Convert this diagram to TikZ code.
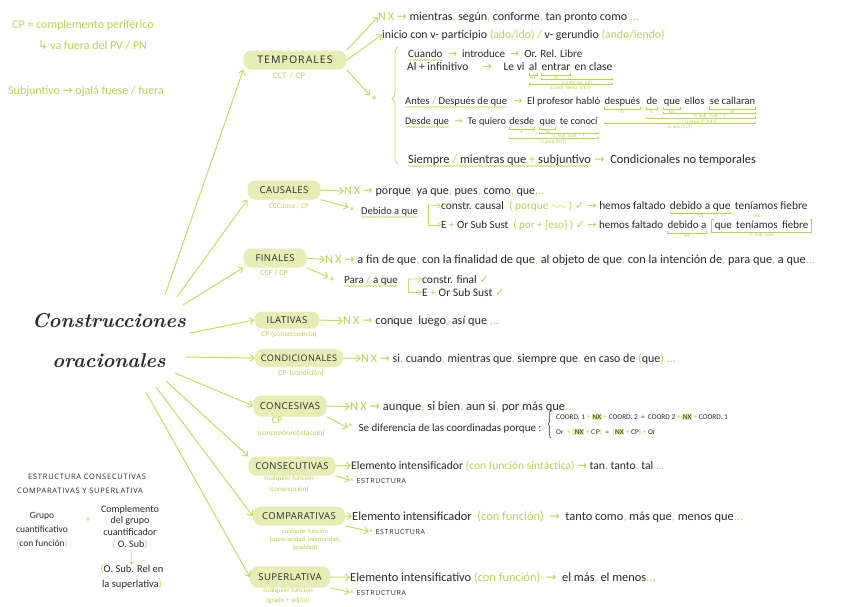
\documentclass[tikz,border=0pt]{standalone}
\usepackage{fontspec}
\usetikzlibrary{arrows.meta,positioning,decorations.pathmorphing,decorations.pathreplacing}
\newfontfamily\hand{Carlito}
\newfontfamily\capf{Open Sans}[LetterSpace=10]
\newfontfamily\brf{Open Sans}[LetterSpace=5]
\newfontfamily\symf{DejaVu Sans}
\definecolor{ink}{HTML}{2A2A2A}
\definecolor{lime}{HTML}{C9DC62}
\definecolor{limefill}{HTML}{E6EDB5}
\definecolor{limetext}{HTML}{BDD253}
\definecolor{hilite}{HTML}{E4EE8E}
\newcommand{\grn}[1]{\textcolor{limetext}{#1}}
\newcommand{\garr}{\grn{{\symf →}}}
\newcommand{\chk}{\grn{{\symf ✓}}}
\newcommand{\nx}{\grn{N\,X}}
\newcommand{\hlt}[1]{{\setlength{\fboxsep}{0.6pt}\colorbox{hilite}{#1}}}
% bracket under words: from, to, depth, label
\newcommand{\ubr}[4]{\draw[brk] ([yshift=-#3]#1.base west) |- ([yshift=-#3-2pt]#2.base east) node[lbl,pos=0.75,below]{#4} -- ([yshift=-#3]#2.base east);}
% wavy underline
\newcommand{\wav}[1]{\draw[wavy] ([yshift=-3pt]#1.base west) -- ([yshift=-3pt]#1.base east);}

\begin{document}
\begin{tikzpicture}[x=1pt,y=-1pt,
  branch/.style={rounded corners=8pt,fill=limefill,text=ink,font=\brf\fontsize{9.5}{10}\selectfont,inner xsep=4pt,minimum height=19pt},
  sub/.style={text=limetext,font=\hand\fontsize{7.5}{10}\selectfont,inner sep=0pt,align=center},
  txt/.style={anchor=base west,inner sep=0pt,text=ink,font=\hand\fontsize{12}{12}\selectfont},
  sz/.style={font=\hand\fontsize{#1}{#1}\selectfont},
  tiny/.style={txt,font=\hand\fontsize{7}{8}\selectfont},
  caps/.style={txt,font=\capf\fontsize{7}{8}\selectfont},
  note/.style={txt,text=limetext,font=\hand\fontsize{12}{12}\selectfont},
  star/.style={text=limetext,font=\hand\fontsize{15}{15}\selectfont,inner sep=0pt},
  blk/.style={text=ink,font=\hand\fontsize{9.5}{14}\selectfont,align=center,inner sep=0pt},
  lbl/.style={text=limetext,font=\hand\fontsize{5}{5}\selectfont,inner sep=0.8pt},
  arr/.style={draw=lime,line width=1pt,-{Straight Barb[length=4pt,width=7pt]}},
  arrthin/.style={draw=lime,line width=0.7pt,-{Straight Barb[length=3pt,width=5pt]}},
  brk/.style={draw=limetext,line width=0.4pt},
  wavy/.style={draw=lime,line width=0.5pt,decorate,decoration={snake,amplitude=0.7pt,segment length=3pt}},
  bracel/.style={draw=lime,line width=0.8pt,decorate}]
  \fill[white] (0,0) rectangle (848,606);
  \useasboundingbox (0,0) rectangle (848,606);

  % side notes
  \node[note] (cpnote) at (12,28) {CP = complemento periférico};
  \node[note] (pvnote) at (38,49) {{\symf ↳}\,va fuera del PV / PN};
  \node[note] (subjnote) at (8,94) {Subjuntivo {\symf →} ojalá fuese / fuera};

  % title
  \node[text=ink,align=center,inner sep=0pt,font=\rmfamily\bfseries\itshape\fontsize{20}{40}\selectfont] (title) at (109,341) {Construcciones\\oracionales};

  % branches
  \node[branch,minimum width=103pt,font=\capf\fontsize{10.5}{10}\selectfont] (temp) at (295,60) {TEMPORALES};
  \node[branch,minimum width=73pt] (caus) at (284,190) {CAUSALES};
  \node[branch,minimum width=63pt] (fin) at (275,258) {FINALES};
  \node[branch,minimum width=65pt,minimum height=17pt] (ilat) at (287,320) {ILATIVAS};
  \node[branch,minimum width=88pt,minimum height=18pt,font=\brf\fontsize{9}{10}\selectfont] (cond) at (299,358) {CONDICIONALES};
  \node[branch,minimum width=73pt,minimum height=21pt] (conc) at (290,406) {CONCESIVAS};
  \node[branch,minimum width=87pt] (consec) at (292,466) {CONSECUTIVAS};
  \node[branch,minimum width=92pt] (compar) at (299,516) {COMPARATIVAS};
  \node[branch,minimum width=80pt,minimum height=21pt] (superl) at (290,577) {SUPERLATIVA};

  \node[sub,font=\hand\fontsize{8.5}{8}\selectfont] (tempsub) at (289,76) {CCT \,/\, CP};
  \node[sub] (caussub) at (289,206) {CCCausa / CP};
  \node[sub,font=\hand\fontsize{8}{8}\selectfont] (finsub) at (274,273) {CCF / CP};
  \node[sub] (ilatsub) at (289,334) {CP (consecuencia)};
  \node[sub] (condsub) at (301,373) {CP \ (condición)};
  \node[sub,font=\hand\fontsize{10}{9}\selectfont] (concsub) at (277,420) {CP};
  \node[sub] (concsub2) at (291,433) {(concesión/obstáculo)};
  \node[sub,font=\hand\fontsize{7}{10.5}\selectfont] (consecsub) at (289,484) {cualquier función\\(consecución)};
  \node[sub,font=\hand\fontsize{6.5}{8}\selectfont] (comparsub) at (305,540) {cualquier función\\(superioridad, inferioridad,\\igualdad)};
  \node[sub,font=\hand\fontsize{7}{10}\selectfont] (superlsub) at (288,596) {cualquier función\\(grado + adj(o))};

  % from the title
  \coordinate (o1) at (165,295);
  \coordinate (o2) at (177,297);
  \coordinate (o3) at (183,305);
  \coordinate (o4) at (190,333);
  \coordinate (o5) at (185,357);
  \coordinate (o6) at (175,373);
  \coordinate (o7) at (166,381);
  \coordinate (o8) at (156,387);
  \coordinate (o9) at (146,392);
  \draw[arr] (o1) -- (temp.south west);
  \draw[arr] (o2) -- (caus.south west);
  \draw[arr] (o3) -- (fin.south west);
  \draw[arr] (o4) -- (ilat.west);
  \draw[arr] (o5) -- (cond.west);
  \draw[arr] (o6) -- (conc.west);
  \draw[arr] (o7) -- (consec.north west);
  \draw[arr] (o8) -- (compar.west);
  \draw[arr] (o9) -- (superl.west);

  % temporales
  \node[txt] (tnx) at (378,20) {\nx\ \garr\ mientras\grn{,} según\grn{,} conforme\grn{,} tan pronto como \grn{...}};
  \node[txt,sz=11.8] (tpart) at (382,38) {inicio con v- participio \grn{(ado/ido)} \grn{/} v- gerundio \grn{(ando/iendo)}};
  \node[star] (tstar) at (374,101) {*};
  \draw[arr] (temp.north east) -- (tnx.west);
  \draw[arr] (temp.east) -- (tpart.west);
  \draw[arr] (temp.south east) -- (tstar.north west);
  \coordinate (tb1) at (398,164);
  \coordinate (tb2) at (398,47);
  \draw[bracel,decoration={brace,amplitude=6pt,aspect=0.56}] (tb1) -- (tb2);

  \node[txt,sz=11] (tcu) at (408,57) {Cuando};
  \node[txt,sz=11] (tcu2) at ([xshift=5pt]tcu.base east) {\garr\ \ introduce \ \garr\ \ Or. Rel. Libre};
  \wav{tcu}
  \node[txt,sz=11.5] (tal) at (407,70) {Al + infinitivo \quad\garr\quad Le vi};
  \node[txt,sz=11.5] (tw1) at ([xshift=4pt]tal.base east) {al};
  \node[txt,sz=11.5] (tw2) at ([xshift=4pt]tw1.base east) {entrar};
  \node[txt,sz=11.5] (tw3) at ([xshift=4pt]tw2.base east) {en clase};
  \ubr{tw1}{tw1}{3pt}{NX}
  \ubr{tw2}{tw2}{3pt}{N}
  \ubr{tw2}{tw3}{7.5pt}{G.V-PV (Or. Inf)}
  \ubr{tw1}{tw3}{12.5pt}{Constr. temp. (CCT)}

  \node[txt,sz=10.6] (tan1) at (405,104) {Antes \grn{/} Después de que};
  \wav{tan1}
  \node[txt,sz=10.6] (tan2) at ([xshift=6pt]tan1.base east) {\garr\ \ El profesor habló};
  \node[txt,sz=10.6] (td1) at ([xshift=4pt]tan2.base east) {después};
  \node[txt,sz=10.6] (td2) at ([xshift=6pt]td1.base east) {de};
  \node[txt,sz=10.6] (td3) at ([xshift=6pt]td2.base east) {que};
  \node[txt,sz=10.6] (td4) at ([xshift=4pt]td3.base east) {ellos};
  \node[txt,sz=10.6] (td5) at ([xshift=5pt]td4.base east) {se callaran};
  \ubr{td1}{td1}{3pt}{N}
  \ubr{td2}{td2}{3pt}{E}
  \ubr{td3}{td3}{3pt}{Nx}
  \ubr{td5}{td5}{3pt}{N}
  \ubr{td3}{td5}{7.5pt}{O. Sub. Sust -- T}
  \ubr{td2}{td5}{12.5pt}{G.prep (C. Adv)}
  \ubr{td1}{td5}{17.5pt}{G. adv (CCT)}

  \node[txt,sz=10.2] (tde1) at (405,124) {Desde que};
  \wav{tde1}
  \node[txt,sz=10.2] (tde2) at ([xshift=5pt]tde1.base east) {\garr\ \ Te quiero};
  \node[txt,sz=10.2] (tq1) at ([xshift=3pt]tde2.base east) {desde};
  \node[txt,sz=10.2] (tq2) at ([xshift=5pt]tq1.base east) {que};
  \node[txt,sz=10.2] (tq3) at ([xshift=4pt]tq2.base east) {te conocí};
  \ubr{tq1}{tq1}{3pt}{E}
  \ubr{tq2}{tq2}{3pt}{Nx}
  \ubr{tq2}{tq3}{7.5pt}{G. Sub. Sust -- T}
  \ubr{tq1}{tq3}{12.5pt}{G.prep (CCT)}

  \node[txt,sz=12.4] (tsi) at (408,163) {Siempre \grn{/} mientras que \grn{+} subjuntivo};
  \wav{tsi}
  \node[txt,sz=12.4] (tsi2) at ([xshift=3pt]tsi.base east) {\garr\ \ Condicionales no temporales};

  % causales
  \node[txt] (cnx) at (344,194) {\nx\ \garr\ porque\grn{,} ya que\grn{,} pues\grn{,} como\grn{,} que\grn{...}};
  \node[star,font=\hand\fontsize{13}{13}\selectfont] (cst) at (352,212) {*};
  \node[txt,sz=10.5] (cdeb) at (361,214) {Debido a que};
  \wav{cdeb}
  \draw[arr] (caus.east) -- (cnx.west);
  \draw[arr] (caus.south east) -- (cst.north west);
  \coordinate (cfk) at (428,205);
  \node[txt,sz=11.4] (cc1) at (441,209) {constr. causal \ \grn{( porque $\sim\!\sim$ )} \chk\ \garr\ hemos faltado};
  \node[txt,sz=11.4] (cw1) at ([xshift=4pt]cc1.base east) {debido a que};
  \node[txt,sz=11.4] (cw2) at ([xshift=4pt]cw1.base east) {teníamos fiebre};
  \ubr{cw1}{cw1}{2.5pt}{NX}
  \node[txt,sz=11] (cc2) at (441,228) {E \grn{+} Or Sub Sust \ \grn{( por + [eso] )} \chk\ \garr\ hemos faltado};
  \node[txt,sz=11] (cv1) at ([xshift=4pt]cc2.base east) {debido a};
  \node[txt,sz=11] (cv2) at ([xshift=8pt]cv1.base east) {que};
  \node[txt,sz=11] (cv3) at ([xshift=4pt]cv2.base east) {teníamos};
  \node[txt,sz=11] (cv4) at ([xshift=4pt]cv3.base east) {fiebre};
  \ubr{cv1}{cv1}{3pt}{NX}
  \draw[brk] ([xshift=-1pt,yshift=9pt]cv2.base west) -- ([xshift=-3pt,yshift=9pt]cv2.base west) -- ([xshift=-3pt,yshift=-4pt]cv2.base west) -- ([xshift=3pt,yshift=-4pt]cv4.base east) node[lbl,midway,below]{O. Sub. Sust} -- ([xshift=3pt,yshift=9pt]cv4.base east) -- ([xshift=1pt,yshift=9pt]cv4.base east);
  \node[lbl] (ceso) at ([yshift=12pt]cv3.base) {eso};
  \draw[arrthin] (cfk) -- (cc1.west);
  \draw[arrthin] (cfk) |- (cc2.west);

  % finales
  \node[txt,sz=12.3] (fnx) at (325,263) {\nx\ \garr\ a fin de que\grn{,} con la finalidad de que\grn{,} al objeto de que\grn{,} con la intención de\grn{,} para que\grn{,} a que\grn{...}};
  \node[star,font=\hand\fontsize{13}{13}\selectfont] (fst) at (332,282) {*};
  \node[txt,sz=11] (fpara) at (344,283) {Para \grn{/} a que};
  \wav{fpara}
  \draw[arr] (fin.east) -- (fnx.west);
  \draw[arr] (fin.south east) -- (fst.north west);
  \coordinate (ffk) at (408,279);
  \node[txt,sz=11.5] (fc1) at (422,283) {constr. final \chk};
  \node[txt,sz=11.5] (fc2) at (422,296) {E \grn{+} Or Sub Sust \chk};
  \draw[arrthin] (ffk) -- (fc1.west);
  \draw[arrthin] (ffk) |- (fc2.west);

  % ilativas, condicionales
  \node[txt,sz=12.3] (inx) at (343,324) {\nx\ \garr\ conque\grn{,} luego\grn{,} así que \grn{...}};
  \draw[arr] (ilat.east) -- (inx.west);
  \node[txt] (dnx) at (361,362) {\nx\ \garr\ si\grn{,} cuando\grn{,} mientras que\grn{,} siempre que\grn{,} en caso de \grn{(}que\grn{)} \grn{...}};
  \draw[arr] (cond.east) -- (dnx.west);

  % concesivas
  \node[txt,sz=12.5] (onx) at (350,410) {\nx\ \garr\ aunque\grn{,} si bien\grn{,} aun si\grn{,} por más que\grn{...}};
  \node[txt,sz=11] (ost) at (348,431) {\grn{*}\ \ Se diferencia de las coordinadas porque :};
  \draw[arr] (conc.east) -- (onx.west);
  \draw[arr] (conc.south east) -- (ost.west);
  \coordinate (ob1) at (551,438);
  \coordinate (ob2) at (551,410);
  \draw[draw=ink,line width=0.5pt,decorate,decoration={brace,amplitude=3pt}] (ob1) -- (ob2);
  \node[tiny,sz=7.3] (oc1) at (556,419) {COORD. 1 \grn{+} \hlt{NX} \grn{+} COORD. 2 \ = \ COORD 2 \grn{+} \hlt{NX} \grn{+} COORD. 1};
  \node[tiny,sz=7.3] (oc2) at (556,434) {Or \ \grn{+ (}\hlt{NX} \grn{+} C\,P\grn{)} \ = \ \grn{(}\hlt{NX} \grn{+} CP\grn{)} \grn{+} Or};

  % consecutivas, comparativas, superlativa
  \node[txt,sz=11.6] (knx) at (351,469) {Elemento intensificador \grn{(con función sintáctica)} \garr\ tan\grn{,} tanto\grn{,} tal \grn{...}};
  \node[caps] (kst) at (350,483) {\grn{*} ESTRUCTURA};
  \draw[arr] (consec.east) -- (knx.west);
  \draw[arr] (consec.south east) -- (kst.west);
  \node[txt,sz=12.4] (mnx) at (352,520) {Elemento intensificador \ \grn{(con función)} \ \garr\ \ tanto como\grn{,} más que\grn{,} menos que\grn{...}};
  \node[caps] (mst) at (369,534) {\grn{*} ESTRUCTURA};
  \draw[arr] (compar.east) -- (mnx.west);
  \draw[arr] (compar.south east) -- (mst.west);
  \node[txt,sz=12.4] (snx) at (350,581) {Elemento intensificativo \grn{(con función)} \ \garr\ \ el más\grn{,} el menos\grn{...}};
  \node[caps] (sst) at (350,595) {\grn{*} ESTRUCTURA};
  \draw[arr] (superl.east) -- (snx.west);
  \draw[arr] (superl.south east) -- (sst.west);

  % estructura (bottom left)
  \node[caps,font=\capf\fontsize{7.5}{8}\selectfont] (bh1) at (28,479) {ESTRUCTURA CONSECUTIVAS};
  \node[caps,font=\capf\fontsize{7.5}{8}\selectfont] (bh2) at (17,493) {COMPARATIVAS Y SUPERLATIVA};
  \node[blk] (bgrp) at (42,530) {Grupo\\cuantificativo\\\grn{(}con función\grn{)}};
  \node[text=limetext,font=\hand\fontsize{10}{10}\selectfont,inner sep=0pt] (bplus) at (88,520) {+};
  \node[blk,font=\hand\fontsize{10}{11.7}\selectfont] (bcomp) at (130,527) {Complemento\\del grupo\\cuantificador\\\grn{(} O. Sub\grn{)}};
  \node[blk,font=\hand\fontsize{10.5}{15}\selectfont] (brel) at (132,577) {\grn{(}O. Sub. Rel en\\la superlativa\grn{)}};
  \draw[arrthin] (bcomp) -- (brel);
\end{tikzpicture}
\end{document}
